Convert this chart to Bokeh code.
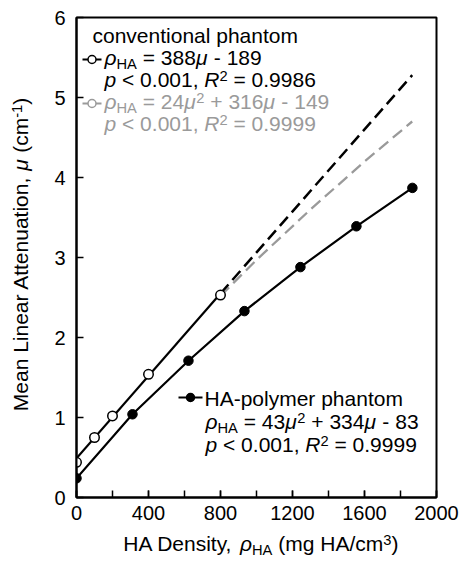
import math
from bokeh.plotting import figure
from bokeh.layouts import row, column
from bokeh.models import Range1d, SingleIntervalTicker, Label
from bokeh.embed import file_html
from bokeh.resources import INLINE

# ---------------- data ----------------
conv_rho = [0, 100, 200, 400, 800]
conv_mu = [0.44, 0.75, 1.02, 1.54, 2.53]

conv_fit_rho = [0, 800]
conv_fit_mu = [0.49, 2.55]
conv_ext_rho = [800, 1865]
conv_ext_mu = [2.55, 5.28]

quad_ext_rho = [800, 1000, 1300, 1600, 1865]
quad_ext_mu = [2.52, 2.97, 3.60, 4.20, 4.70]

ha_rho = [0, 311, 622, 933, 1244, 1555, 1866]
ha_mu = [0.24, 1.04, 1.71, 2.33, 2.88, 3.39, 3.87]

x_ticks_interval = 400
y_ticks_interval = 1

GRAY = "#9a9a9a"
FONT = "Liberation Sans"
TXT = 21
BASE_FIX = 0.37   # measured baseline drift of Label text, in em

# ---------------- page geometry (page px) ----------------
PAGE_W, PAGE_H = 459, 561
LEFT_W = 40                 # left strip holding the y title
MAIN_H = 530                # main figure height
BOT_H = PAGE_H - MAIN_H     # bottom strip holding the x title
PAGE_FL, PAGE_FT, PAGE_FR, PAGE_FB = 76, 17, 436, 497
FW, FH = PAGE_FR - PAGE_FL, PAGE_FB - PAGE_FT

# ---------------- main figure ----------------
MAIN_W = PAGE_W - LEFT_W
p = figure(width=MAIN_W, height=MAIN_H, output_backend="svg", toolbar_location=None,
           title=None,
           x_range=Range1d(0, 2000), y_range=Range1d(0, 6),
           min_border_left=PAGE_FL - LEFT_W, min_border_top=PAGE_FT,
           min_border_right=PAGE_W - PAGE_FR, min_border_bottom=MAIN_H - PAGE_FB)
p.grid.visible = False
p.background_fill_color = "white"
p.border_fill_color = "white"
p.outline_line_color = "black"
p.outline_line_width = 2

for ax in (p.xaxis[0], p.yaxis[0]):
    ax.axis_line_width = 2
    ax.major_tick_in = 7
    ax.major_tick_out = 0
    ax.minor_tick_in = 7
    ax.minor_tick_out = 0
    ax.major_tick_line_width = 1.5
    ax.minor_tick_line_width = 1.5
    ax.major_label_text_font = FONT
    ax.major_label_text_font_size = "20px"
    ax.major_label_text_color = "black"
p.xaxis[0].ticker = SingleIntervalTicker(interval=x_ticks_interval, num_minor_ticks=2)
p.yaxis[0].ticker = SingleIntervalTicker(interval=y_ticks_interval, num_minor_ticks=0)
p.yaxis[0].minor_tick_line_color = None
p.xaxis[0].major_label_standoff = 8
p.yaxis[0].major_label_standoff = 11

# ---------------- marks ----------------
p.line(conv_fit_rho, conv_fit_mu, line_color="black", line_width=2.2)
p.line(quad_ext_rho, quad_ext_mu, line_color=GRAY, line_width=2.3, line_dash="12 6")
p.line(conv_ext_rho, conv_ext_mu, line_color="black", line_width=2.5, line_dash="12 6")
p.line(ha_rho, ha_mu, line_color="black", line_width=2.2)
p.scatter(conv_rho, conv_mu, marker="circle", size=9.5,
          fill_color="white", line_color="black", line_width=1.5)
p.scatter(ha_rho, ha_mu, marker="circle", size=9.5,
          fill_color="black", line_color="black")


# ---------------- px helpers (page px -> main data) ----------------
def dx(px):
    return (px - PAGE_FL) * 2000 / FW


def dy(py):
    return (PAGE_FB - py) * 6 / FH


WID = {' ': 278, ',': 278, '-': 333, '.': 278, '/': 278, '<': 584, '=': 584,
       '+': 584, '(': 333, ')': 333, 'A': 667, 'D': 722, 'H': 722, 'L': 556,
       'M': 833, 'R': 722, 'a': 556, 'c': 500, 'e': 556, 'g': 556, 'h': 556,
       'i': 222, 'l': 222, 'm': 833, 'n': 556, 'o': 556, 'p': 556, 'r': 333,
       's': 500, 't': 278, 'u': 556, 'v': 500, 'y': 500, 'μ': 576, 'ρ': 571}


def tw(s, size):
    return sum(WID.get(c, 556) for c in s) * size / 1000.0


def piece_size(kind, size):
    return size * 0.7 if kind in ("sub", "sup") else size


def total_width(pieces, size):
    return sum(tw(t, piece_size(k, size)) for t, k in pieces)


def rich(fig, x, y, pieces, color="black", size=TXT, vertical=False):
    """x, y: baseline anchor in fig's data coordinates."""
    cum = 0.0
    for t, k in pieces:
        s = piece_size(k, size)
        lead = len(t) - len(t.lstrip(" "))
        shown = t.strip(" ")
        off = cum + tw(" " * lead, s)
        shift = {"sub": -3.5, "sup": 6.5}.get(k, 0.0) + BASE_FIX * s
        style = "italic" if k == "i" else "normal"
        if vertical:
            xo, yo, ang = -shift, off, math.pi / 2
        else:
            xo, yo, ang = off, shift, 0
        if shown:
            fig.add_layout(Label(x=x, y=y, x_offset=xo, y_offset=yo,
                                 text=shown, angle=ang, text_font=FONT,
                                 text_font_size=f"{s:.1f}px", text_font_style=style,
                                 text_color=color, text_align="left",
                                 text_baseline="alphabetic"))
        cum += tw(t, s)


def key(x0_px, x1_px, cy_px, color, fill):
    p.line([dx(x0_px), dx(x1_px)], [dy(cy_px), dy(cy_px)], line_color=color, line_width=2)
    p.scatter([dx((x0_px + x1_px) / 2)], [dy(cy_px)], marker="circle", size=8,
              fill_color=fill, line_color=color, line_width=1.5)


# ---------------- legend blocks ----------------
key(82, 101, 59, "black", "white")
key(82, 101, 103, GRAY, "white")
key(178, 202, 397, "black", "black")

rich(p, dx(92), dy(43), [("conventional phantom", "n")])
rich(p, dx(104), dy(65), [("ρ", "i"), ("HA", "sub"), (" = 388", "n"), ("μ", "i"), (" - 189", "n")])
rich(p, dx(104), dy(87), [("p", "i"), (" < 0.001, ", "n"), ("R", "i"), ("2", "sup"),
                          (" = 0.9986", "n")])
rich(p, dx(104), dy(109), [("ρ", "i"), ("HA", "sub"), (" = 24", "n"), ("μ", "i"), ("2", "sup"),
                           (" + 316", "n"), ("μ", "i"), (" - 149", "n")], color=GRAY)
rich(p, dx(104), dy(131), [("p", "i"), (" < 0.001, ", "n"), ("R", "i"), ("2", "sup"),
                           (" = 0.9999", "n")], color=GRAY)

rich(p, dx(204), dy(406), [("HA-polymer phantom", "n")])
rich(p, dx(205), dy(429), [("ρ", "i"), ("HA", "sub"), (" = 43", "n"), ("μ", "i"), ("2", "sup"),
                           (" + 334", "n"), ("μ", "i"), (" - 83", "n")])
rich(p, dx(205), dy(452), [("p", "i"), (" < 0.001, ", "n"), ("R", "i"), ("2", "sup"),
                           (" = 0.9999", "n")])


# ---------------- title strips ----------------
def strip(w, h):
    f = figure(width=w, height=h, output_backend="svg", toolbar_location=None,
               title=None,
               x_range=Range1d(0, w), y_range=Range1d(0, h),
               x_axis_location=None, y_axis_location=None,
               min_border=0, min_border_left=0, min_border_right=0,
               min_border_top=0, min_border_bottom=0)
    f.grid.visible = False
    f.outline_line_color = None
    f.background_fill_color = "white"
    f.border_fill_color = "white"
    return f


left = strip(LEFT_W, PAGE_H)
yl = [("Mean Linear Attenuation, ", "n"), ("μ", "i"), (" (cm", "n"), ("-1", "sup"), (")", "n")]
rich(left, 28, PAGE_H - (254 + total_width(yl, TXT) / 2), yl, vertical=True)

bottom = strip(MAIN_W, BOT_H)
xl = [("HA Density, ", "n"), ("ρ", "i"), ("HA", "sub"), (" (mg HA/cm", "n"), ("3", "sup"), (")", "n")]
X_FIX = -24   # measured horizontal drift in the bottom strip
rich(bottom, 256 - LEFT_W - total_width(xl, TXT) / 2 + X_FIX, PAGE_H - 551, xl)

layout = row(left, column(p, bottom, spacing=0), spacing=0)
open("out.html", "w").write(file_html(layout, INLINE))
